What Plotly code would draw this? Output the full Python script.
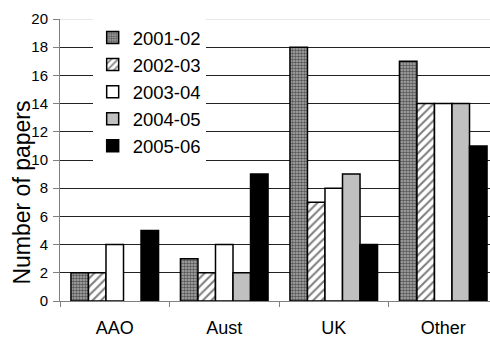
import plotly.graph_objects as go

categories = ["AAO", "Aust", "UK", "Other"]
series_names = ["2001-02", "2002-03", "2003-04", "2004-05", "2005-06"]
v2001 = [2, 3, 18, 17]
v2002 = [2, 2, 7, 14]
v2003 = [4, 4, 8, 14]
v2004 = [None, 2, 9, 14]
v2005 = [5, 9, 4, 11]
y_ticks = [0, 2, 4, 6, 8, 10, 12, 14, 16, 18, 20]

values = [v2001, v2002, v2003, v2004, v2005]
styles = [
    dict(color="#b0b0b0", pattern=dict(shape=".", fgcolor="#000000", bgcolor="#b0b0b0", size=3, solidity=0.55, fillmode="overlay")),
    dict(color="#ffffff", pattern=dict(shape="/", fgcolor="#000000", bgcolor="#ffffff", size=6, solidity=0.35, fillmode="overlay")),
    dict(color="#ffffff"),
    dict(color="#c0c0c0"),
    dict(color="#000000"),
]

fig = go.Figure()
for name, vals, st in zip(series_names, values, styles):
    fig.add_trace(go.Bar(
        x=categories, y=vals, name=name,
        marker=dict(line=dict(color="#000000", width=1.5), **st),
    ))

fig.update_layout(
    width=490, height=337,
    margin=dict(l=60, r=0, t=19, b=36),
    paper_bgcolor="white", plot_bgcolor="white",
    font=dict(family="Liberation Sans, Arial, sans-serif", color="#000000"),
    barmode="group", bargap=0.2, bargroupgap=0,
    showlegend=True,
    legend=dict(x=0.076, y=1.0, xanchor="left", yanchor="top",
                bgcolor="white", borderwidth=0, font=dict(size=18.5),
                itemwidth=30, tracegroupgap=0),
    xaxis=dict(range=[-0.5, 3.427], showline=True, linecolor="#808080", linewidth=1,
               ticks="outside", tickson="boundaries", ticklen=5, tickcolor="#808080",
               tickfont=dict(size=18), ticklabelstandoff=10, showgrid=False,
               automargin=False),
    yaxis=dict(range=[0, 20], tickvals=y_ticks, showline=True, linecolor="#808080", linewidth=1,
               ticks="outside", ticklen=6, tickcolor="#808080", tickfont=dict(size=15),
               ticklabelstandoff=2, automargin=False,
               showgrid=True, gridcolor="#222222", gridwidth=1, zeroline=False),
    annotations=[dict(text="Number of papers", textangle=-90, xref="paper", yref="paper",
                      x=-0.088, y=0.385, xanchor="center", yanchor="middle",
                      showarrow=False, font=dict(size=23))],
    shapes=[dict(type="line", xref="paper", yref="y", x0=0, x1=1, y0=20, y1=20,
                 line=dict(color="#d0d0d0", width=1), layer="above")],
)

fig.write_html("out.html", config={"displayModeBar": False},
               post_script="document.body.style.margin='0';document.body.style.padding='0';")
